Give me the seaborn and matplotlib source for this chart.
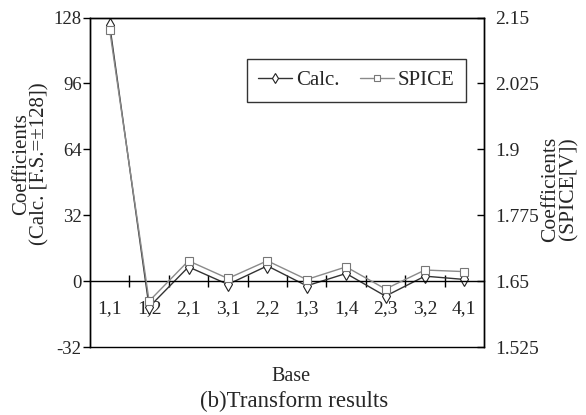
import numpy as np
import matplotlib
matplotlib.use("Agg")
import matplotlib.pyplot as plt
import seaborn as sns
from matplotlib.ticker import FixedLocator, FuncFormatter

sns.set_style("white")
plt.rcParams['font.family'] = ['Liberation Serif', 'DejaVu Serif']
plt.rcParams['axes.unicode_minus'] = False

bases = ["1,1", "1,2", "2,1", "3,1", "2,2", "1,3", "1,4", "2,3", "3,2", "4,1"]
calc = [124.3, -12.6, 6.9, -1.6, 7.4, -2.3, 3.7, -7.3, 2.4, 0.8]
spice = [2.126, 1.612, 1.6885, 1.655, 1.6885, 1.653, 1.677, 1.635, 1.671, 1.668]
left_ticks = [-32, 0, 32, 64, 96, 128]
right_ticks = [1.525, 1.65, 1.775, 1.9, 2.025, 2.15]

fig = plt.figure(figsize=(5.86, 4.15), dpi=100)
ax = fig.add_axes([90/586, 1-347/415, 394/586, 329.5/415])
ax2 = ax.twinx()

x = np.arange(len(bases))
sns.lineplot(x=x, y=calc, ax=ax, color='#333333', lw=1.0, marker='d',
             markersize=7, markerfacecolor='white', markeredgecolor='#222222',
             markeredgewidth=0.8, label='Calc.', legend=False)
sns.lineplot(x=x, y=spice, ax=ax2, color='#8a8a8a', lw=1.0, marker='s',
             markersize=6, markerfacecolor='white', markeredgecolor='#777777',
             markeredgewidth=0.8, label='SPICE', legend=False)

ax.set_xlim(-0.5, len(bases) - 0.5)
ax.set_ylim(-32, 128)
ax2.set_ylim(1.525, 2.15)
ax.set_yticks(left_ticks)
ax.set_yticklabels([str(t) for t in left_ticks], fontsize=13.5)
ax2.set_yticks(right_ticks)
ax2.yaxis.set_major_formatter(FuncFormatter(lambda v, p: '%g' % v))
for lab in ax2.get_yticklabels():
    lab.set_fontsize(14)

# x axis along zero line
ax.spines['bottom'].set_position(('data', 0))
ax.spines['bottom'].set_color('black')
ax.spines['bottom'].set_linewidth(1.0)
ax.set_xticks(x)
ax.set_xticklabels(bases, fontsize=14)
ax.xaxis.set_minor_locator(FixedLocator(x[:-1] + 0.5))
ax.tick_params(axis='x', which='major', length=0, pad=14)
ax.tick_params(axis='x', which='minor', direction='inout', length=9, width=1.0, color='black', bottom=True)

ax.tick_params(axis='y', which='major', direction='out', length=5, width=1.0, color='black', left=True, pad=1)
ax2.tick_params(axis='y', which='major', direction='in', length=5, width=1.0, color='black', right=True, pad=8)

for s in ['left', 'top', 'right']:
    ax.spines[s].set_color('black')
    ax.spines[s].set_linewidth(1.0)
for s in ['left', 'top', 'right', 'bottom']:
    ax2.spines[s].set_color('black')
    ax2.spines[s].set_linewidth(1.0)
ax.set_ylabel('')
ax2.set_ylabel('')
ax.set_xlabel('')

fig.text(31/586, 1-164/415, 'Coefficients\n(Calc. [F.S.=±128])', rotation=90,
         ha='center', va='center', multialignment='center', fontsize=15, linespacing=0.95)
fig.text(560/586, 1-189/415, 'Coefficients\n(SPICE[V])', rotation=90,
         ha='center', va='center', multialignment='center', fontsize=15.5, linespacing=0.95)
fig.text(291/586, 1-376/415, 'Base', ha='center', va='center', fontsize=14.5)
fig.text(294/586, 1-401/415, '(b)Transform results', ha='center', va='center', fontsize=16.5)

h1, l1 = ax.get_legend_handles_labels()
h2, l2 = ax2.get_legend_handles_labels()
leg = ax2.legend(h1 + h2, l1 + l2, loc='upper right', bbox_to_anchor=(0.954, 0.874),
                 ncol=2, frameon=True, fancybox=False, edgecolor='black',
                 fontsize=15, handlelength=1.6, handletextpad=0.2, columnspacing=1.0,
                 borderpad=0.55, borderaxespad=0, markerscale=0.8)
leg.get_frame().set_linewidth(1.0)

fig.savefig('out.png', dpi=100)
